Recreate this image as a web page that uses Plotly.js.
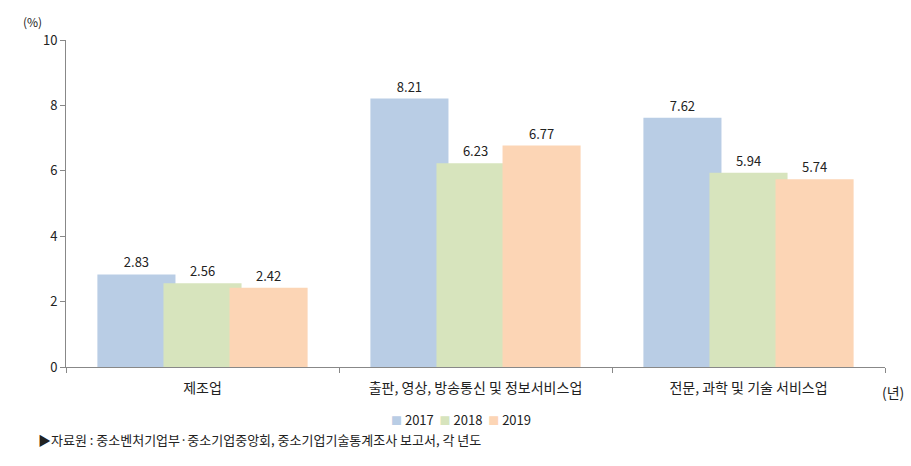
<!DOCTYPE html>
<html><head><meta charset="utf-8">
<script src="https://cdn.plot.ly/plotly-3.0.1.min.js"></script>
<style>body{margin:0;background:#fff}#c{width:911px;height:466px}</style>
</head><body><div id="c"></div>
<script>
const categories = ["제조업", "출판, 영상, 방송통신 및 정보서비스업", "전문, 과학 및 기술 서비스업"];
const years = ["2017", "2018", "2019"];
const v2017 = [2.83, 8.21, 7.62];
const v2018 = [2.56, 6.23, 5.94];
const v2019 = [2.42, 6.77, 5.74];
const yTicks = [0, 2, 4, 6, 8, 10];

const colors = ["#b9cde5", "#d7e4bd", "#fcd5b5"];
const offsets = [-0.385, -0.143, 0.099];
const series = [v2017, v2018, v2019];
const font = "'Noto Sans CJK KR', 'Malgun Gothic', sans-serif";

const traces = series.map((vals, i) => ({
  type: "bar", name: years[i], x: categories, y: vals,
  marker: {color: colors[i], line: {width: 0}},
  width: 0.286, offset: offsets[i],
  text: vals.map(v => v.toFixed(2)), textposition: "outside",
  textfont: {size: 13, color: "#222", family: font},
  cliponaxis: false, hoverinfo: "none", showlegend: false
}));

const legendText = years.map((y, i) =>
  `<span style="color:${colors[i]};font-size:11px">■</span> ${y}`).join("  ");

const layout = {
  width: 911, height: 466,
  margin: {l: 66, r: 26, t: 40, b: 99},
  barmode: "overlay",
  paper_bgcolor: "#fff", plot_bgcolor: "#fff",
  font: {family: font, size: 13, color: "#222"},
  xaxis: {
    type: "category", showline: true, linecolor: "#888", linewidth: 1,
    ticks: "outside", tickson: "boundaries", ticklen: 5, tickcolor: "#888",
    tickfont: {size: 14, color: "#222"}, showgrid: false, zeroline: false,
    ticklabelstandoff: 8
  },
  yaxis: {
    range: [0, 10], tickvals: yTicks, showline: true, linecolor: "#888", linewidth: 1,
    ticks: "outside", ticklen: 5, tickcolor: "#888", showgrid: false, zeroline: false,
    tickfont: {size: 13, color: "#222"}
  },
  showlegend: false,
  annotations: [
    {text: "(%)", xref: "paper", yref: "paper", x: -0.055, y: 1.09, showarrow: false, xanchor: "left", font: {size: 12}},
    {text: "(년)", xref: "paper", yref: "paper", x: 1.01, y: -0.077, showarrow: false, xanchor: "center", yanchor: "middle", font: {size: 14}},
    {text: legendText, xref: "paper", yref: "paper", x: 0.482, y: -0.162, showarrow: false, xanchor: "center", yanchor: "middle", font: {size: 13}},
    {text: "▶자료원 : 중소벤처기업부·중소기업중앙회, 중소기업기술통계조사 보고서, 각 년도", xref: "paper", yref: "paper",
     x: -0.037, y: -0.222, showarrow: false, xanchor: "left", yanchor: "middle", font: {size: 13}}
  ]
};

Plotly.newPlot("c", traces, layout, {staticPlot: true});
</script></body></html>
